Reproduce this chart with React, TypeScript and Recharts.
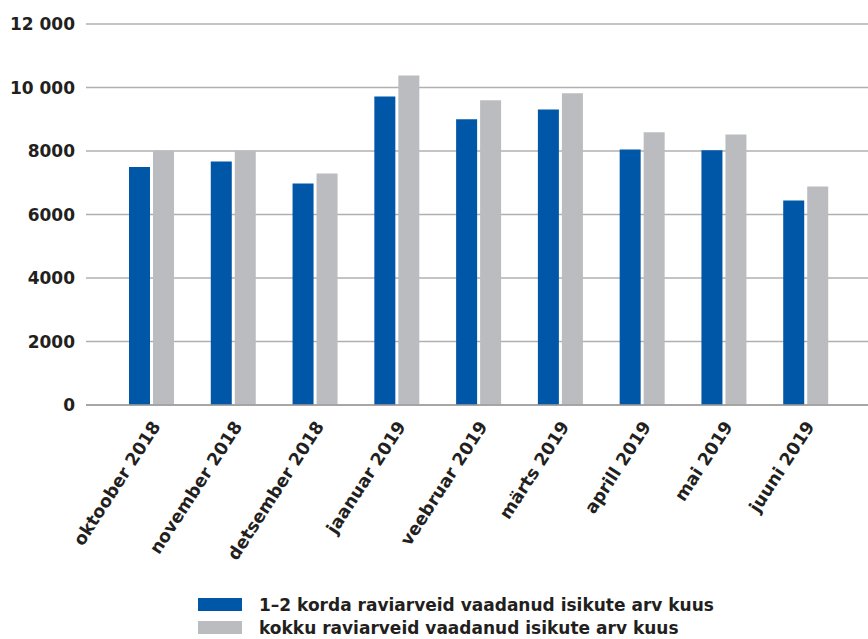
import { BarChart, Bar, XAxis, YAxis, CartesianGrid, Legend } from "recharts";

document.body.style.margin = "0";

const months = [
  "oktoober 2018",
  "november 2018",
  "detsember 2018",
  "jaanuar 2019",
  "veebruar 2019",
  "märts 2019",
  "aprill 2019",
  "mai 2019",
  "juuni 2019",
];
const oneTwoTimes = [7500, 7670, 6980, 9720, 9000, 9310, 8050, 8020, 6440];
const total = [8010, 8010, 7290, 10380, 9600, 9820, 8590, 8520, 6880];
const yTicks = [0, 2000, 4000, 6000, 8000, 10000, 12000];

const seriesNames = {
  oneTwo: "1–2 korda raviarveid vaadanud isikute arv kuus",
  total: "kokku raviarveid vaadanud isikute arv kuus",
};

const data = months.map((month, i) => ({
  month,
  oneTwo: oneTwoTimes[i],
  total: total[i],
}));

const BLUE = "#0057a8";
const GRAY = "#bbbcbf";
const TEXT = "#231f20";
const FONT = "'DejaVu Sans', sans-serif";

const formatY = (v: number) =>
  v >= 10000 ? `${Math.floor(v / 1000)} ${String(v % 1000).padStart(3, "0")}` : String(v);

const MonthTick = (props: any) => {
  const { x, y, payload } = props;
  return (
    <g transform={`translate(${x + 4},${y + 18}) rotate(-57)`}>
      <text
        x={0}
        y={0}
        dy="0.35em"
        textAnchor="end"
        fill={TEXT}
        fontFamily={FONT}
        fontWeight="bold"
        fontSize={17.5}
      >
        {payload.value}
      </text>
    </g>
  );
};

const LegendBox = () => (
  <div style={{ fontFamily: FONT, fontWeight: "bold", fontSize: 17, color: TEXT }}>
    {[
      { name: seriesNames.oneTwo, color: BLUE },
      { name: seriesNames.total, color: GRAY },
    ].map((item) => (
      <div
        key={item.name}
        style={{ display: "flex", alignItems: "center", height: 23, whiteSpace: "nowrap" }}
      >
        <span
          style={{
            display: "inline-block",
            width: 44,
            height: 13,
            background: item.color,
            marginRight: 17,
          }}
        />
        {item.name}
      </div>
    ))}
  </div>
);

export default function App() {
  return (
    <BarChart
      width={868}
      height={639}
      data={data}
      margin={{ top: 24, right: 0, left: 0, bottom: 0 }}
      barSize={21}
      barGap={3}
    >
      <CartesianGrid vertical={false} stroke="#b0b0b0" strokeWidth={1.6} />
      <XAxis
        dataKey="month"
        height={234}
        padding={{ left: 25, right: 21 }}
        axisLine={{ stroke: "#9c9c9c", strokeWidth: 1.6 }}
        tickLine={false}
        tickSize={0}
        tickMargin={0}
        interval={0}
        tick={<MonthTick />}
      />
      <YAxis
        width={86}
        domain={[0, 12000]}
        ticks={yTicks}
        axisLine={false}
        tickLine={false}
        tickSize={0}
        tickMargin={11}
        tickFormatter={formatY}
        tick={{ fill: TEXT, fontFamily: FONT, fontWeight: "bold", fontSize: 17 }}
      />
      <Legend
        layout="horizontal"
        verticalAlign="middle"
        align="center"
        wrapperStyle={{ top: 593, left: 198, width: "auto" }}
        content={<LegendBox />}
      />
      <Bar dataKey="oneTwo" name={seriesNames.oneTwo} fill={BLUE} isAnimationActive={false} />
      <Bar dataKey="total" name={seriesNames.total} fill={GRAY} isAnimationActive={false} />
    </BarChart>
  );
}
